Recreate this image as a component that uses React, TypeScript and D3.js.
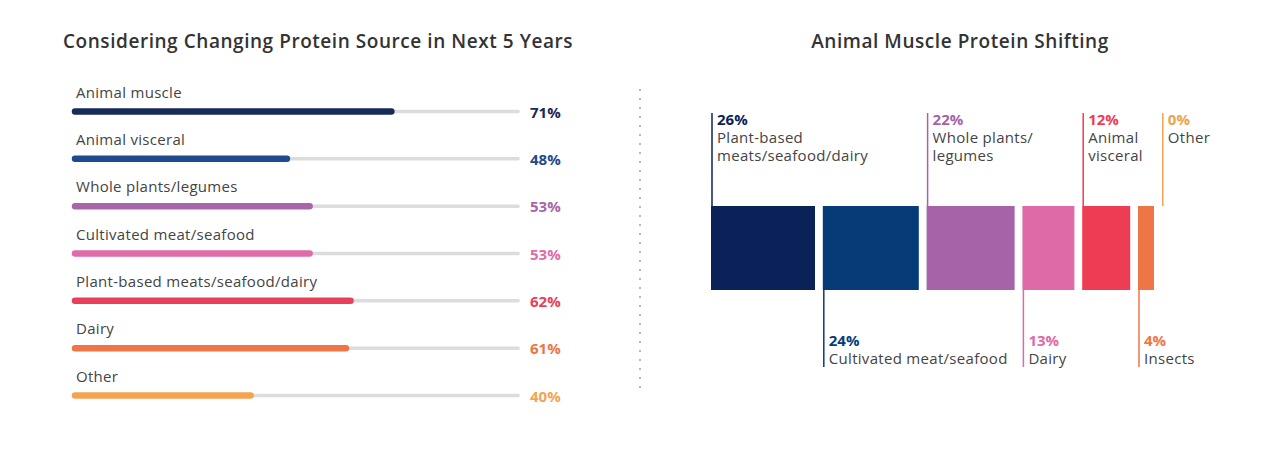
import React from 'react';
import * as d3 from 'd3';

// left chart: share considering a change of protein source
const sourceCategories = [
  'Animal muscle',
  'Animal visceral',
  'Whole plants/legumes',
  'Cultivated meat/seafood',
  'Plant-based meats/seafood/dairy',
  'Dairy',
  'Other',
];
const sourceValues = [71, 48, 53, 53, 62, 61, 40];
const sourceColors = ['#172a58', '#1f4a8b', '#a766a9', '#df6ba9', '#e8405a', '#ee7545', '#f3a452'];

// right chart: where animal muscle protein is shifting to
const shiftCategories = [
  'Plant-based meats/seafood/dairy',
  'Cultivated meat/seafood',
  'Whole plants/legumes',
  'Dairy',
  'Animal visceral',
  'Insects',
  'Other',
];
const shiftValues = [26, 24, 22, 13, 12, 4, 0];
const shiftLabelLines = [
  ['Plant-based', 'meats/seafood/dairy'],
  ['Cultivated meat/seafood'],
  ['Whole plants/', 'legumes'],
  ['Dairy'],
  ['Animal', 'visceral'],
  ['Insects'],
  ['Other'],
];
const shiftColors = ['#0b2259', '#053c78', '#a663a8', '#de6aa8', '#ee3c54', '#ee7646', '#f0a24e'];

const W = 1280;
const H = 461;
const FONT = '"Open Sans", "Noto Sans", sans-serif';

const App = () => {
  // left scales
  const x = d3.scaleLinear().domain([0, 100]).range([72, 526]);
  const y = d3.scalePoint<string>().domain(sourceCategories).range([111.5, 395.5]);

  // right scales
  const w = d3.scaleLinear().domain([0, 100]).range([0, 400]);
  const gap = 7.8;
  const startX = 711;
  const offsets = shiftValues.map((_, i) => startX + w(d3.sum(shiftValues.slice(0, i))) + i * gap);
  const blockTop = 206;
  const blockBottom = 290;

  return (
    <svg width={W} height={H} style={{ position: 'absolute', left: 0, top: 0, background: '#fff' }} fontFamily={FONT}>
      <rect width={W} height={H} fill="#fff" />

      {/* titles */}
      <text x={63} y={48} fontSize={19} fontWeight={600} fill="#333" letterSpacing={0.55}>
        Considering Changing Protein Source in Next 5 Years
      </text>
      <text x={960} y={48} fontSize={19} fontWeight={600} fill="#333" textAnchor="middle" letterSpacing={0.55}>
        Animal Muscle Protein Shifting
      </text>

      {/* separator */}
      <line x1={640} x2={640} y1={89} y2={390} stroke="#b8b8b8" strokeWidth={2} strokeDasharray="2 7" />

      {/* left chart */}
      {sourceCategories.map((c, i) => {
        const cy = y(c) as number;
        return (
          <g key={c}>
            <text x={76} y={cy - 14} fontSize={15} fill="#444" letterSpacing={0.3}>{c}</text>
            <line x1={x(0) + 2} x2={x(100) - 8} y1={cy} y2={cy} stroke="#dcdcdc" strokeWidth={3.5} strokeLinecap="round" />
            <line x1={x(0) + 3} x2={x(sourceValues[i]) - 3} y1={cy} y2={cy} stroke={sourceColors[i]} strokeWidth={6.5} strokeLinecap="round" />
            <text x={530} y={cy + 6} fontSize={15} fontWeight={700} fill={sourceColors[i]}>{sourceValues[i]}%</text>
          </g>
        );
      })}

      {/* right chart */}
      {shiftCategories.map((c, i) => {
        const x0 = offsets[i];
        const top = i % 2 === 0;
        const lx = x0 + 1;
        return (
          <g key={c}>
            {shiftValues[i] > 0 && (
              <rect x={x0} y={blockTop} width={w(shiftValues[i])} height={blockBottom - blockTop} fill={shiftColors[i]} />
            )}
            {top ? (
              <g>
                <line x1={lx} x2={lx} y1={113} y2={blockTop} stroke={shiftColors[i]} strokeWidth={1.5} />
                <text x={lx + 5} y={125} fontSize={15} fontWeight={700} fill={shiftColors[i]}>{shiftValues[i]}%</text>
                {shiftLabelLines[i].map((t, j) => (
                  <text key={t} x={lx + 5} y={143 + j * 17.5} fontSize={15} fill="#444" letterSpacing={0.3}>{t}</text>
                ))}
              </g>
            ) : (
              <g>
                <line x1={lx} x2={lx} y1={blockBottom} y2={367} stroke={shiftColors[i]} strokeWidth={1.5} />
                <text x={lx + 5} y={345.5} fontSize={15} fontWeight={700} fill={shiftColors[i]}>{shiftValues[i]}%</text>
                {shiftLabelLines[i].map((t, j) => (
                  <text key={t} x={lx + 5} y={364 + j * 17.5} fontSize={15} fill="#444" letterSpacing={0.3}>{t}</text>
                ))}
              </g>
            )}
          </g>
        );
      })}
    </svg>
  );
};

export default App;
